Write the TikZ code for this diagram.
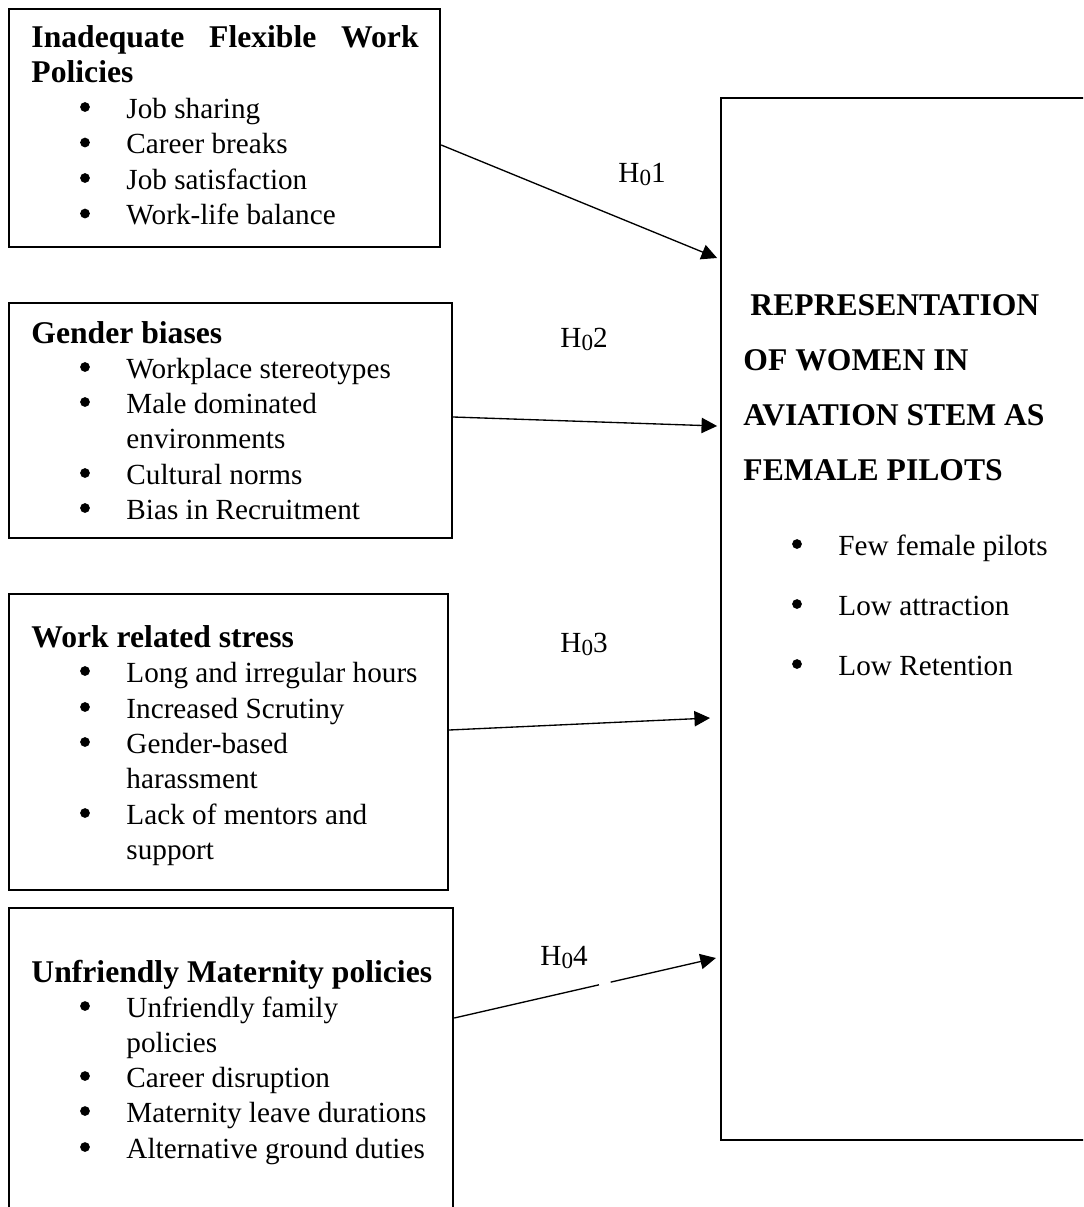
\documentclass[tikz,border=0pt]{standalone}
\usepackage{fontspec}
\setmainfont{Liberation Serif}
\usetikzlibrary{arrows.meta,fit,calc}
\newcommand{\hzero}[1]{H{\fontsize{9.5pt}{10pt}\selectfont\raisebox{-1.3pt}{0}}#1}
\begin{document}
\begin{tikzpicture}[x=0.411pt,y=-0.411pt,
  box/.style={draw, line width=1pt, inner sep=0pt},
  txt/.style={anchor=base west, inner sep=0pt, font=\fontsize{12pt}{14pt}\selectfont},
  hd/.style={anchor=base west, inner sep=0pt, font=\fontsize{13pt}{15pt}\selectfont\bfseries},
  dot/.style={circle, fill=black, inner sep=0pt, minimum size=4pt},
  arr/.style={line width=0.55pt, -{Triangle[length=6.4pt,width=6.3pt]}},
  seg/.style={line width=0.55pt},
]
\useasboundingbox (0,0) rectangle (1083,1207);
\clip (0,0) rectangle (1083,1207);
\fill[white] (0,0) rectangle (1083,1207);

% boxes
\node[box, fit={(9,9) (440,247)}] (b1) {};
\node[box, fit={(9,303) (452,538)}] (b2) {};
\node[box, fit={(9,594) (448,890)}] (b3) {};
\node[box, fit={(9,908) (453,1230)}] (b4) {};
\node[box, line width=1.2pt, fit={(721,98) (1110,1140)}] (rb) {};

% box 1
\node[hd] (t1a) at (31,47) {\makebox[159.1pt][s]{Inadequate Flexible Work}};
\node[hd] (t1b) at (31,82) {Policies};
\node[dot] (d11) at (85,107) {};   \node[txt] (i11) at (126,118) {Job sharing};
\node[dot] (d12) at (85,142.5) {}; \node[txt] (i12) at (126,153.5) {Career breaks};
\node[dot] (d13) at (85,178) {};   \node[txt] (i13) at (126,189) {Job satisfaction};
\node[dot] (d14) at (85,213.5) {}; \node[txt] (i14) at (126,224.5) {Work-life balance};

% box 2
\node[hd] (t2) at (31,343) {Gender biases};
\node[dot] (d21) at (85,367) {}; \node[txt] (i21) at (126,378) {Workplace stereotypes};
\node[dot] (d22) at (85,402) {}; \node[txt] (i22) at (126,413) {Male dominated};
\node[txt] (i22b) at (126,448) {environments};
\node[dot] (d23) at (85,473) {}; \node[txt] (i23) at (126,484) {Cultural norms};
\node[dot] (d24) at (85,508) {}; \node[txt] (i24) at (126,519) {Bias in Recruitment};

% box 3
\node[hd] (t3) at (31,647) {Work related stress};
\node[dot] (d31) at (85,671) {}; \node[txt] (i31) at (126,682) {Long and irregular hours};
\node[dot] (d32) at (85,707) {}; \node[txt] (i32) at (126,718) {Increased Scrutiny};
\node[dot] (d33) at (85,742) {}; \node[txt] (i33) at (126,753) {Gender-based};
\node[txt] (i33b) at (126,788) {harassment};
\node[dot] (d34) at (85,813) {}; \node[txt] (i34) at (126,824) {Lack of mentors and};
\node[txt] (i34b) at (126,859) {support};

% box 4
\node[hd] (t4) at (31,982) {Unfriendly Maternity policies};
\node[dot] (d41) at (85,1006) {}; \node[txt] (i41) at (126,1017) {Unfriendly family};
\node[txt] (i41b) at (126,1052) {policies};
\node[dot] (d42) at (85,1076) {}; \node[txt] (i42) at (126,1087) {Career disruption};
\node[dot] (d43) at (85,1111) {}; \node[txt] (i43) at (126,1122) {Maternity leave durations};
\node[dot] (d44) at (85,1147) {}; \node[txt] (i44) at (126,1158) {Alternative ground duties};

% right box
\node[hd] (r1) at (750,315.5) {REPRESENTATION};
\node[hd] (r2) at (743,370.5) {OF WOMEN IN};
\node[hd] (r3) at (743,425.5) {AVIATION STEM AS};
\node[hd] (r4) at (743,480) {FEMALE PILOTS};
\node[dot] (dr1) at (797,544) {}; \node[txt] (ir1) at (838,555) {Few female pilots};
\node[dot] (dr2) at (797,604) {}; \node[txt] (ir2) at (838,615) {Low attraction};
\node[dot] (dr3) at (797,664) {}; \node[txt] (ir3) at (838,675) {Low Retention};

% hypothesis labels
\node[txt] (h1) at (618,182) {\hzero{1}};
\node[txt] (h2) at (560,347) {\hzero{2}};
\node[txt] (h3) at (560,652) {\hzero{3}};
\node[txt] (h4) at (540,965) {\hzero{4}};

% arrow heights
\coordinate (y1s) at (0,145);  \coordinate (y1e) at (0,258);
\coordinate (y2s) at (0,417);  \coordinate (y2e) at (0,426);
\coordinate (y3s) at (0,730);  \coordinate (y3e) at (0,718);
\coordinate (y4s) at (0,1018); \coordinate (y4e) at (0,958);
\coordinate (x3e) at (710,0);

\draw[arr] (b1.east |- y1s) -- ([xshift=-1pt]rb.west |- y1e);
\draw[arr] (b2.east |- y2s) -- ([xshift=-1pt]rb.west |- y2e);
\draw[arr] (b3.east |- y3s) -- (x3e |- y3e);
\coordinate (a4s) at (b4.east |- y4s);
\coordinate (a4e) at ([xshift=-1.5pt]rb.west |- y4e);
\draw[seg] (a4s) -- ($(a4s)!0.553!(a4e)$);
\draw[arr] ($(a4s)!0.598!(a4e)$) -- (a4e);
\end{tikzpicture}
\end{document}
